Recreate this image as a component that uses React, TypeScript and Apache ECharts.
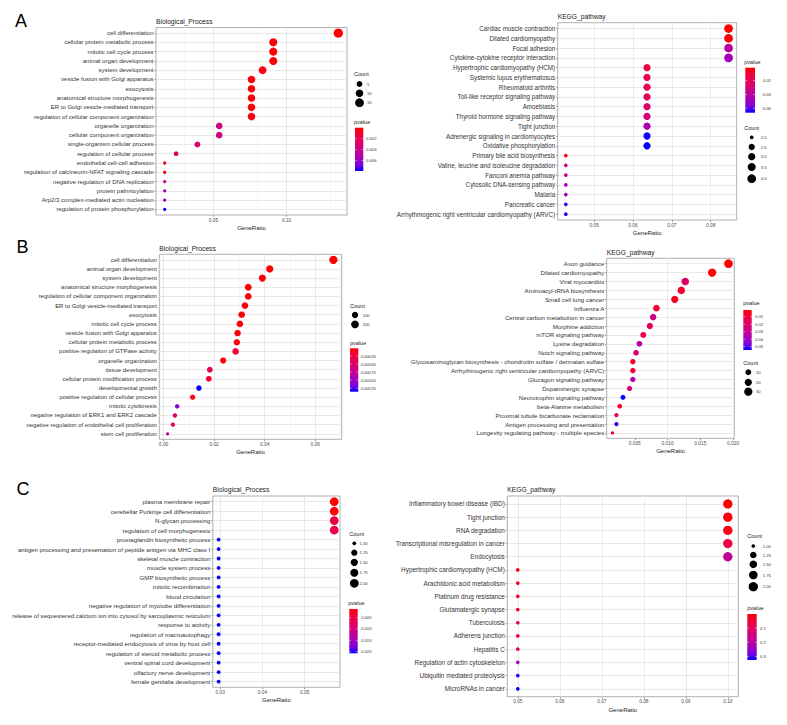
import React, { useEffect, useRef } from 'react';
import * as echarts from 'echarts';

const FONT = '"Liberation Sans", Arial, Helvetica, sans-serif';

// ggplot-like red -> blue gradient (Lab interpolation sampled)
const STOPS = ['#FF0000', '#F40031', '#E80050', '#DA006C', '#CA0089', '#B500A5', '#9A00C3', '#7300E0', '#0000FF'];

// ---------------- Panel A : Biological_Process ----------------
const aBpTerms = [
  'cell differentiation', 'cellular protein metabolic process', 'mitotic cell cycle process',
  'animal organ development', 'system development', 'vesicle fusion with Golgi apparatus', 'exocytosis',
  'anatomical structure morphogenesis', 'ER to Golgi vesicle-mediated transport',
  'regulation of cellular component organization', 'organelle organization', 'cellular component organization',
  'single-organism cellular process', 'regulation of cellular process', 'endothelial cell-cell adhesion',
  'regulation of calcineurin-NFAT signaling cascade', 'negative regulation of DNA replication',
  'protein palmitoylation', 'Arp2/3 complex-mediated actin nucleation', 'regulation of protein phosphorylation',
];
const aBpRatio = [0.1354, 0.0909, 0.0909, 0.0909, 0.0836, 0.076, 0.076, 0.076, 0.076, 0.076, 0.0539, 0.0539, 0.039, 0.0244, 0.0166, 0.0166, 0.0166, 0.0166, 0.0166, 0.0166];
const aBpCount = [18, 12, 12, 12, 11, 10, 10, 10, 10, 10, 7, 7, 5, 3, 2, 2, 2, 2, 2, 2];
const aBpPvalue = [0.00001, 0.00016, 0.00016, 0.00024, 0.00024, 0.00032, 0.00032, 0.00032, 0.00032, 0.0004, 0.0036, 0.0036, 0.0033, 0.0024, 0.00063, 0.00063, 0.004, 0.0057, 0.0059, 0.0079];
const aBpXTicks = [0.05, 0.1];
const aBpXTickLabels = ['0.05', '0.10'];
const aBpCountKeys = [5, 10, 15];
const aBpCountKeyLabels = ['5', '10', '15'];
const aBpPTicks = [0.002, 0.004, 0.006];
const aBpPTickLabels = ['0.002', '0.004', '0.006'];

// ---------------- Panel A : KEGG_pathway ----------------
const aKgTerms = [
  'Cardiac muscle contraction', 'Dilated cardiomyopathy', 'Focal adhesion', 'Cytokine-cytokine receptor interaction',
  'Hypertrophic cardiomyopathy (HCM)', 'Systemic lupus erythematosus', 'Rheumatoid arthritis',
  'Toll-like receptor signaling pathway', 'Amoebiasis', 'Thyroid hormone signaling pathway', 'Tight junction',
  'Adrenergic signaling in cardiomyocytes', 'Oxidative phosphorylation', 'Primary bile acid biosynthesis',
  'Valine, leucine and isoleucine degradation', 'Fanconi anemia pathway', 'Cytosolic DNA-sensing pathway',
  'Malaria', 'Pancreatic cancer', 'Arrhythmogenic right ventricular cardiomyopathy (ARVC)',
];
const aKgRatio = [0.0846, 0.0846, 0.0846, 0.0846, 0.0636, 0.0636, 0.0636, 0.0636, 0.0636, 0.0636, 0.0636, 0.0636, 0.0636, 0.0427, 0.0427, 0.0427, 0.0427, 0.0427, 0.0427, 0.0427];
const aKgCount = [4, 4, 4, 4, 3, 3, 3, 3, 3, 3, 3, 3, 3, 2, 2, 2, 2, 2, 2, 2];
const aKgPvalue = [0.0014, 0.0027, 0.0403, 0.0468, 0.0144, 0.0157, 0.0183, 0.0209, 0.0248, 0.0287, 0.0455, 0.065, 0.0663, 0.0033, 0.0306, 0.034, 0.047, 0.048, 0.063, 0.0643];
const aKgXTicks = [0.05, 0.06, 0.07, 0.08];
const aKgXTickLabels = ['0.05', '0.06', '0.07', '0.08'];
const aKgCountKeys = [2, 2.5, 3, 3.5, 4];
const aKgCountKeyLabels = ['2.0', '2.5', '3.0', '3.5', '4.0'];
const aKgPTicks = [0.02, 0.04, 0.06];
const aKgPTickLabels = ['0.02', '0.04', '0.06'];

// ---------------- Panel B : Biological_Process ----------------
const bBpTerms = [
  'cell differentiation', 'animal organ development', 'system development', 'anatomical structure morphogenesis',
  'regulation of cellular component organization', 'ER to Golgi vesicle-mediated transport', 'exocytosis',
  'mitotic cell cycle process', 'vesicle fusion with Golgi apparatus', 'cellular protein metabolic process',
  'positive regulation of GTPase activity', 'organelle organization', 'tissue development',
  'cellular protein modification process', 'developmental growth', 'positive regulation of cellular process',
  'mitotic cytokinesis', 'negative regulation of ERK1 and ERK2 cascade',
  'negative regulation of endothelial cell proliferation', 'stem cell proliferation',
];
const bBpRatio = [0.0672, 0.042, 0.0391, 0.0335, 0.0335, 0.0322, 0.0309, 0.0302, 0.0293, 0.029, 0.0285, 0.0236, 0.0183, 0.0179, 0.014, 0.0115, 0.0054, 0.0045, 0.0037, 0.0016];
const bBpCount = [249, 155, 145, 124, 124, 119, 114, 112, 108, 107, 105, 87, 68, 66, 52, 43, 20, 17, 14, 6];
const bBpPvalue = [0.000000001, 0.0000136, 0.0000272, 0.0000272, 0.0000272, 0.0000272, 0.0000272, 0.0000408, 0.0000408, 0.0000408, 0.000204, 0.0000408, 0.00034, 0.000163, 0.00136, 0.000068, 0.00109, 0.000517, 0.00034, 0.000816];
const bBpXTicks = [0, 0.02, 0.04, 0.06];
const bBpXTickLabels = ['0.00', '0.02', '0.04', '0.06'];
const bBpCountKeys = [100, 200];
const bBpCountKeyLabels = ['100', '200'];
const bBpPTicks = [0.00025, 0.0005, 0.00075, 0.001, 0.00125];
const bBpPTickLabels = ['0.00025', '0.00050', '0.00075', '0.00100', '0.00125'];

// ---------------- Panel B : KEGG_pathway ----------------
const bKgTerms = [
  'Axon guidance', 'Dilated cardiomyopathy', 'Viral myocarditis', 'Aminoacyl-tRNA biosynthesis',
  'Small cell lung cancer', 'Influenza A', 'Central carbon metabolism in cancer', 'Morphine addiction',
  'mTOR signaling pathway', 'Lysine degradation', 'Notch signaling pathway',
  'Glycosaminoglycan biosynthesis - chondroitin sulfate / dermatan sulfate',
  'Arrhythmogenic right ventricular cardiomyopathy (ARVC)', 'Glucagon signaling pathway', 'Dopaminergic synapse',
  'Neurotrophin signaling pathway', 'beta-Alanine metabolism', 'Proximal tubule bicarbonate reclamation',
  'Antigen processing and presentation', 'Longevity regulating pathway - multiple species',
];
const bKgRatio = [0.0193, 0.0168, 0.0127, 0.0121, 0.0111, 0.0083, 0.0078, 0.0073, 0.0063, 0.0057, 0.0052, 0.0047, 0.0047, 0.0047, 0.0042, 0.0032, 0.0027, 0.0022, 0.0022, 0.0016];
const bKgCount = [35, 30, 23, 22, 20, 15, 14, 13, 11, 10, 9, 8, 8, 8, 7, 6, 5, 4, 4, 3];
const bKgPvalue = [0.0009, 0.002, 0.0197, 0.0073, 0.0052, 0.0089, 0.0277, 0.017, 0.0127, 0.0341, 0.0223, 0.0063, 0.0089, 0.0341, 0.0234, 0.0545, 0.0073, 0.0181, 0.0518, 0.0063];
const bKgXTicks = [0.005, 0.01, 0.015, 0.02];
const bKgXTickLabels = ['0.005', '0.010', '0.015', '0.020'];
const bKgCountKeys = [10, 20, 30];
const bKgCountKeyLabels = ['10', '20', '30'];
const bKgPTicks = [0.01, 0.02, 0.03, 0.04, 0.05];
const bKgPTickLabels = ['0.01', '0.02', '0.03', '0.04', '0.05'];

// ---------------- Panel C : Biological_Process ----------------
const cBpTerms = [
  'plasma membrane repair', 'cerebellar Purkinje cell differentiation', 'N-glycan processing',
  'regulation of cell morphogenesis', 'prostaglandin biosynthetic process',
  'antigen processing and presentation of peptide antigen via MHC class I', 'skeletal muscle contraction',
  'muscle system process', 'GMP biosynthetic process', 'mitotic recombination', 'blood circulation',
  'negative regulation of myotube differentiation',
  'release of sequestered calcium ion into cytosol by sarcoplasmic reticulum', 'response to activity',
  'regulation of macroautophagy', 'receptor-mediated endocytosis of virus by host cell',
  'regulation of steroid metabolic process', 'ventral spinal cord development', 'olfactory nerve development',
  'female genitalia development',
];
const cBpRatio = [0.057, 0.057, 0.057, 0.057, 0.0296, 0.0296, 0.0296, 0.0296, 0.0296, 0.0296, 0.0296, 0.0296, 0.0296, 0.0296, 0.0296, 0.0296, 0.0296, 0.0296, 0.0296, 0.0296];
const cBpCount = [2, 2, 2, 2, 1, 1, 1, 1, 1, 1, 1, 1, 1, 1, 1, 1, 1, 1, 1, 1];
const cBpPvalue = [0.0012, 0.0018, 0.005, 0.0055, 0.0207, 0.0207, 0.0207, 0.0207, 0.0207, 0.0207, 0.0207, 0.0207, 0.0207, 0.0207, 0.0207, 0.0207, 0.0207, 0.0207, 0.0207, 0.0207];
const cBpXTicks = [0.03, 0.04, 0.05];
const cBpXTickLabels = ['0.03', '0.04', '0.05'];
const cBpCountKeys = [1, 1.25, 1.5, 1.75, 2];
const cBpCountKeyLabels = ['1.00', '1.25', '1.50', '1.75', '2.00'];
const cBpPTicks = [0.005, 0.01, 0.015, 0.02];
const cBpPTickLabels = ['0.005', '0.010', '0.015', '0.020'];

// ---------------- Panel C : KEGG_pathway ----------------
const cKgTerms = [
  'Inflammatory bowel disease (IBD)', 'Tight junction', 'RNA degradation', 'Transcriptional misregulation in cancer',
  'Endocytosis', 'Hypertrophic cardiomyopathy (HCM)', 'Arachidonic acid metabolism', 'Platinum drug resistance',
  'Glutamatergic synapse', 'Tuberculosis', 'Adherens junction', 'Hepatitis C', 'Regulation of actin cytoskeleton',
  'Ubiquitin mediated proteolysis', 'MicroRNAs in cancer',
];
const cKgRatio = [0.1, 0.1, 0.1, 0.1, 0.1, 0.05, 0.05, 0.05, 0.05, 0.05, 0.05, 0.05, 0.05, 0.05, 0.05];
const cKgCount = [2, 2, 2, 2, 2, 1, 1, 1, 1, 1, 1, 1, 1, 1, 1];
const cKgPvalue = [0.001, 0.011, 0.02, 0.066, 0.179, 0.017, 0.033, 0.033, 0.04, 0.049, 0.056, 0.066, 0.211, 0.314, 0.324];
const cKgXTicks = [0.05, 0.06, 0.07, 0.08, 0.09, 0.1];
const cKgXTickLabels = ['0.05', '0.06', '0.07', '0.08', '0.09', '0.10'];
const cKgCountKeys = [1, 1.25, 1.5, 1.75, 2];
const cKgCountKeyLabels = ['1.00', '1.25', '1.50', '1.75', '2.00'];
const cKgPTicks = [0.1, 0.2, 0.3];
const cKgPTickLabels = ['0.1', '0.2', '0.3'];

type Panel = {
  title: string; terms: string[]; ratio: number[]; count: number[]; pvalue: number[];
  xTicks: number[]; xTickLabels: string[]; countKeys: number[]; countKeyLabels: string[];
  pTicks: number[]; pTickLabels: string[];
  grid: { left: number; top: number; width: number; height: number };
  labelSize: number; dot: [number, number];
  cl: { tx: number; ty: number; cx: number; ys: number[]; lx: number };
  pl: { tx: number; ty: number; bx: number; by: number; bw: number; bh: number; lx: number };
};

const panels: Panel[] = [
  {
    title: 'Biological_Process', terms: aBpTerms, ratio: aBpRatio, count: aBpCount, pvalue: aBpPvalue,
    xTicks: aBpXTicks, xTickLabels: aBpXTickLabels, countKeys: aBpCountKeys, countKeyLabels: aBpCountKeyLabels,
    pTicks: aBpPTicks, pTickLabels: aBpPTickLabels,
    grid: { left: 156, top: 27.5, width: 191, height: 187.5 }, labelSize: 6.0, dot: [3.3, 9.3],
    cl: { tx: 354, ty: 74, cx: 359.5, ys: [84, 93.3, 102.7], lx: 367 },
    pl: { tx: 354, ty: 122, bx: 355, by: 127.7, bw: 8.3, bh: 43.3, lx: 366 },
  },
  {
    title: 'KEGG_pathway', terms: aKgTerms, ratio: aKgRatio, count: aKgCount, pvalue: aKgPvalue,
    xTicks: aKgXTicks, xTickLabels: aKgXTickLabels, countKeys: aKgCountKeys, countKeyLabels: aKgCountKeyLabels,
    pTicks: aKgPTicks, pTickLabels: aKgPTickLabels,
    grid: { left: 557.7, top: 22.7, width: 179, height: 197.3 }, labelSize: 6.3, dot: [3.7, 8.7],
    cl: { tx: 744.3, ty: 127.7, cx: 751.7, ys: [137.3, 147, 156.7, 167, 178.7], lx: 760.7 },
    pl: { tx: 744.3, ty: 62, bx: 745.3, by: 67.7, bw: 9.7, bh: 45, lx: 762.7 },
  },
  {
    title: 'Biological_Process', terms: bBpTerms, ratio: bBpRatio, count: bBpCount, pvalue: bBpPvalue,
    xTicks: bBpXTicks, xTickLabels: bBpXTickLabels, countKeys: bBpCountKeys, countKeyLabels: bBpCountKeyLabels,
    pTicks: bBpPTicks, pTickLabels: bBpPTickLabels,
    grid: { left: 159.3, top: 254.3, width: 182.4, height: 185 }, labelSize: 5.95, dot: [3.3, 8.3],
    cl: { tx: 350, ty: 306, cx: 355, ys: [315, 324.3], lx: 362.7 },
    pl: { tx: 350, ty: 343.3, bx: 350, by: 348.3, bw: 8.3, bh: 43.4, lx: 360.7 },
  },
  {
    title: 'KEGG_pathway', terms: bKgTerms, ratio: bKgRatio, count: bKgCount, pvalue: bKgPvalue,
    xTicks: bKgXTicks, xTickLabels: bKgXTickLabels, countKeys: bKgCountKeys, countKeyLabels: bKgCountKeyLabels,
    pTicks: bKgPTicks, pTickLabels: bKgPTickLabels,
    grid: { left: 606.7, top: 258.3, width: 127.6, height: 180 }, labelSize: 6.1, dot: [3.3, 8.7],
    cl: { tx: 743.3, ty: 363.3, cx: 748.3, ys: [372.3, 382.3, 391.7], lx: 756 },
    pl: { tx: 743.3, ty: 303.3, bx: 743.3, by: 310, bw: 8.4, bh: 40, lx: 755 },
  },
  {
    title: 'Biological_Process', terms: cBpTerms, ratio: cBpRatio, count: cBpCount, pvalue: cBpPvalue,
    xTicks: cBpXTicks, xTickLabels: cBpXTickLabels, countKeys: cBpCountKeys, countKeyLabels: cBpCountKeyLabels,
    pTicks: cBpPTicks, pTickLabels: cBpPTickLabels,
    grid: { left: 212.8, top: 496, width: 127.2, height: 191.3 }, labelSize: 6.1, dot: [3.8, 8.7],
    cl: { tx: 349.3, ty: 534, cx: 354.3, ys: [543.3, 552.7, 562.3, 572.7, 583.3], lx: 359.5 },
    pl: { tx: 348.3, ty: 603.3, bx: 349.3, by: 609, bw: 8.4, bh: 44.3, lx: 361 },
  },
  {
    title: 'KEGG_pathway', terms: cKgTerms, ratio: cKgRatio, count: cKgCount, pvalue: cKgPvalue,
    xTicks: cKgXTicks, xTickLabels: cKgXTickLabels, countKeys: cKgCountKeys, countKeyLabels: cKgCountKeyLabels,
    pTicks: cKgPTicks, pTickLabels: cKgPTickLabels,
    grid: { left: 507.3, top: 496, width: 231, height: 200.7 }, labelSize: 6.4, dot: [3.7, 9.3],
    cl: { tx: 747.3, ty: 536, cx: 753.3, ys: [546, 555, 564.3, 575, 586.7], lx: 762.7 },
    pl: { tx: 747.3, ty: 607.7, bx: 747.3, by: 614, bw: 9.4, bh: 46, lx: 760 },
  },
];

const letters = [
  { text: 'A', x: 15, y: 21 },
  { text: 'B', x: 16.5, y: 246.5 },
  { text: 'C', x: 16.5, y: 489 },
];

function sizeOf(p: Panel, c: number) {
  const lo = Math.min(...p.count);
  const hi = Math.max(...p.count);
  if (hi === lo) return p.dot[1];
  const r = Math.max(0, Math.min(1, (c - lo) / (hi - lo)));
  return p.dot[0] + (p.dot[1] - p.dot[0]) * Math.sqrt(r);
}

function txt(text: string, x: number, y: number, size: number, fill: string, align = 'left') {
  return {
    type: 'text', x, y, silent: true, z: 10,
    style: { text, fontSize: size, fontFamily: FONT, fill, align, verticalAlign: 'middle' },
  };
}

function buildOption() {
  const grids: any[] = [];
  const xAxes: any[] = [];
  const yAxes: any[] = [];
  const series: any[] = [];
  const visualMaps: any[] = [];
  const graphics: any[] = [];
  const gradient = {
    type: 'linear', x: 0, y: 0, x2: 0, y2: 1,
    colorStops: STOPS.map((c, k) => ({ offset: k / (STOPS.length - 1), color: c })),
  };

  panels.forEach((p, i) => {
    const n = p.terms.length;
    const rMin = Math.min(...p.ratio);
    const rMax = Math.max(...p.ratio);
    const pad = (rMax - rMin) * 0.05;
    const xMin = rMin - pad;
    const xMax = rMax + pad;
    const rows = p.terms.map((_, j) => j + 1);

    grids.push({ ...p.grid, show: true, borderColor: '#9c9c9c', borderWidth: 0.8, backgroundColor: '#fff' });

    xAxes.push({
      type: 'value', gridIndex: i, min: xMin, max: xMax,
      axisLine: { show: false }, splitLine: { show: false },
      axisTick: { show: true, customValues: p.xTicks, length: 1.8, lineStyle: { color: '#555', width: 0.6 } },
      axisLabel: {
        customValues: p.xTicks, fontSize: 4.8, color: '#4d4d4d', margin: 2.6, fontFamily: FONT,
        formatter: (v: number) => {
          const k = p.xTicks.findIndex((t) => Math.abs(t - v) < 1e-9);
          return k >= 0 ? p.xTickLabels[k] : '';
        },
      },
    });

    yAxes.push({
      type: 'value', gridIndex: i, min: 0.4, max: n + 0.6, inverse: true,
      axisLine: { show: false }, splitLine: { show: false },
      axisTick: { show: true, customValues: rows, length: 1.5, lineStyle: { color: '#555', width: 0.6 } },
      axisLabel: {
        customValues: rows, fontSize: p.labelSize, color: '#333', margin: 2.5, fontFamily: FONT,
        formatter: (v: number) => p.terms[Math.round(v) - 1] ?? '',
      },
    });

    // grid lines (major + minor) like ggplot theme_bw
    const step = p.xTicks.length > 1 ? p.xTicks[1] - p.xTicks[0] : 0.05;
    const minors: number[] = [];
    minors.push(p.xTicks[0] - step / 2);
    p.xTicks.forEach((t) => minors.push(t + step / 2));
    const major = { color: '#e3e3e3', width: 0.8, type: 'solid' };
    const minor = { color: '#efefef', width: 0.5, type: 'solid' };
    const lineData: any[] = [];
    p.xTicks.filter((v) => v > xMin && v < xMax).forEach((v) => lineData.push({ xAxis: v, lineStyle: major }));
    minors.filter((v) => v > xMin && v < xMax).forEach((v) => lineData.push({ xAxis: v, lineStyle: minor }));
    rows.forEach((r) => lineData.push({ yAxis: r, lineStyle: major }));

    series.push({
      type: 'scatter', xAxisIndex: i, yAxisIndex: i, silent: true, z: 3,
      symbol: 'circle',
      data: p.ratio.map((r, j) => [r, j + 1, p.pvalue[j], p.count[j]]),
      symbolSize: (v: number[]) => sizeOf(p, v[3]),
      itemStyle: { opacity: 1 },
      markLine: {
        silent: true, z: 1, symbol: ['none', 'none'], label: { show: false },
        emphasis: { disabled: true }, animation: false, data: lineData,
      },
    });

    const pMin = Math.min(...p.pvalue);
    const pMax = Math.max(...p.pvalue);
    visualMaps.push({
      type: 'continuous', show: false, seriesIndex: i, dimension: 2, min: pMin, max: pMax,
      inRange: { color: STOPS },
    });

    // panel title and axis title
    graphics.push(txt(p.title, p.grid.left, p.grid.top - 6.3, 6.7, '#1a1a1a'));
    graphics.push(txt('GeneRatio', p.grid.left + p.grid.width / 2, p.grid.top + p.grid.height + 13, 6, '#1a1a1a', 'center'));

    // Count legend
    graphics.push(txt('Count', p.cl.tx, p.cl.ty, 5.5, '#1a1a1a'));
    p.countKeys.forEach((c, k) => {
      graphics.push({
        type: 'circle', silent: true, z: 10,
        shape: { cx: p.cl.cx, cy: p.cl.ys[k], r: sizeOf(p, c) / 2 }, style: { fill: '#000' },
      });
      graphics.push(txt(p.countKeyLabels[k], p.cl.lx, p.cl.ys[k], 4.2, '#333'));
    });

    // pvalue colour bar legend
    graphics.push(txt('pvalue', p.pl.tx, p.pl.ty, 5.5, '#1a1a1a'));
    graphics.push({
      type: 'rect', silent: true, z: 10,
      shape: { x: p.pl.bx, y: p.pl.by, width: p.pl.bw, height: p.pl.bh }, style: { fill: gradient },
    });
    p.pTicks.forEach((t, k) => {
      const y = p.pl.by + ((t - pMin) / (pMax - pMin)) * p.pl.bh;
      graphics.push({
        type: 'line', silent: true, z: 11,
        shape: { x1: p.pl.bx, y1: y, x2: p.pl.bx + p.pl.bw * 0.2, y2: y }, style: { stroke: '#fff', lineWidth: 0.5 },
      });
      graphics.push({
        type: 'line', silent: true, z: 11,
        shape: { x1: p.pl.bx + p.pl.bw * 0.8, y1: y, x2: p.pl.bx + p.pl.bw, y2: y }, style: { stroke: '#fff', lineWidth: 0.5 },
      });
      graphics.push(txt(p.pTickLabels[k], p.pl.lx, y, 4.2, '#333'));
    });
  });

  letters.forEach((l) => graphics.push(txt(l.text, l.x, l.y, 18, '#000')));

  return {
    animation: false,
    backgroundColor: '#fff',
    grid: grids,
    xAxis: xAxes,
    yAxis: yAxes,
    visualMap: visualMaps,
    series,
    graphic: { elements: graphics },
  };
}

export default function App() {
  const ref = useRef<HTMLDivElement>(null);
  useEffect(() => {
    const chart = echarts.init(ref.current as HTMLDivElement, null, { renderer: 'svg' });
    chart.setOption(buildOption() as any);
    return () => chart.dispose();
  }, []);
  return (
    <div
      ref={ref}
      style={{ position: 'fixed', left: 0, top: 0, width: 787, height: 725, background: '#fff' }}
    />
  );
}
